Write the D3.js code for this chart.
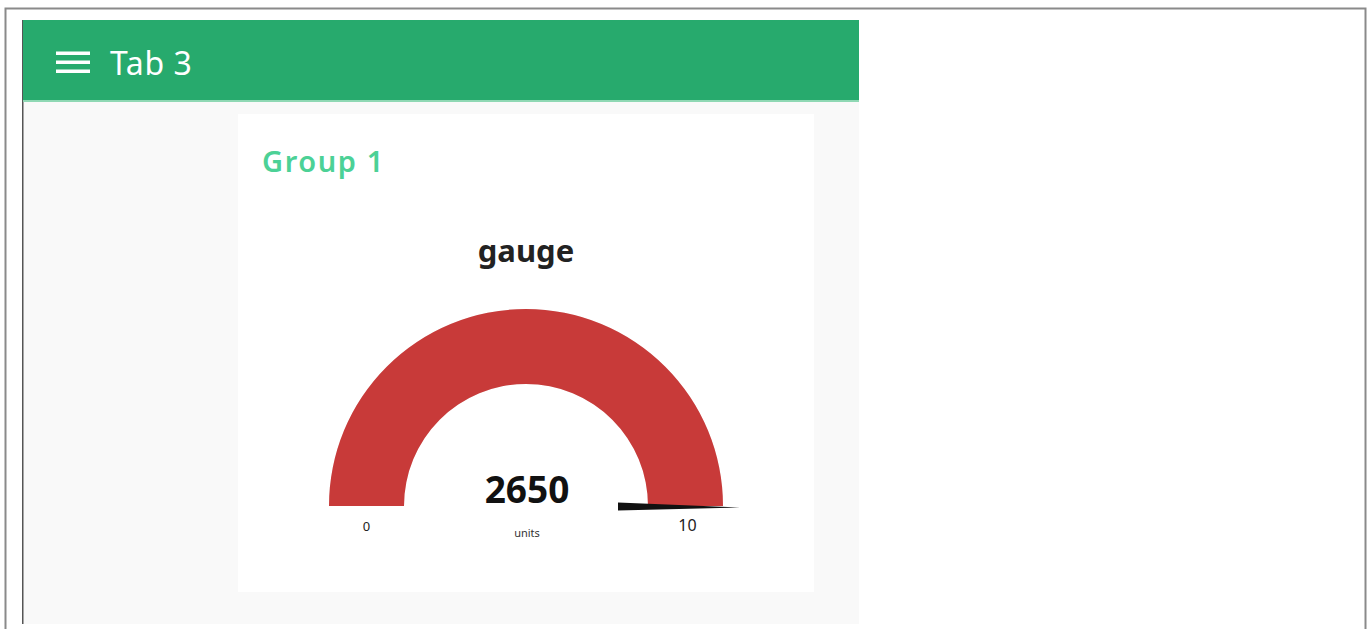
<!DOCTYPE html>
<html>
<head>
<meta charset="utf-8">
<script src="https://cdn.jsdelivr.net/npm/d3@7"></script>
<style>
  html, body { margin: 0; padding: 0; background: #fff; }
  svg { display: block; font-family: "Noto Sans", "Open Sans", sans-serif; }
</style>
</head>
<body>
<div id="chart"></div>
<script>
/* ── data ── */
const TAB_TITLE   = 'Tab 3';
const GROUP_TITLE = 'Group 1';
const GAUGE_TITLE = 'gauge';
const GAUGE_VALUE = [2650];
const GAUGE_RANGE = [0, 10];
const GAUGE_UNITS = ['units'];

const W = 1371, H = 629;
const svg = d3.select('#chart').append('svg')
  .attr('width', W).attr('height', H);

/* outer frame */
svg.append('rect').attr('x', 5.5).attr('y', 8.5).attr('width', 1360).attr('height', 640)
  .attr('fill', '#fff').attr('stroke', '#8a8a8a').attr('stroke-width', 2);

/* dashboard panel */
svg.append('rect').attr('x', 22).attr('y', 20).attr('width', 837).attr('height', 604)
  .attr('fill', '#f9f9f9');
svg.append('rect').attr('x', 22).attr('y', 20).attr('width', 1.5).attr('height', 604)
  .attr('fill', '#555');

/* header */
svg.append('rect').attr('x', 23).attr('y', 20).attr('width', 836).attr('height', 81)
  .attr('fill', '#27aa6d');
svg.append('rect').attr('x', 23).attr('y', 100).attr('width', 836).attr('height', 2)
  .attr('fill', '#8fd8b4');

/* hamburger */
svg.append('g').selectAll('rect')
  .data([53, 62, 71])
  .join('rect')
    .attr('x', 56).attr('y', d => d - 1.5)
    .attr('width', 34).attr('height', 3.5)
    .attr('fill', '#fff');

svg.append('text')
  .attr('x', 110).attr('y', 75)
  .attr('fill', '#fff').attr('font-size', 32).attr('letter-spacing', 0.6)
  .text(TAB_TITLE);

/* card */
svg.append('rect').attr('x', 238).attr('y', 114).attr('width', 576).attr('height', 478)
  .attr('fill', '#fff');

svg.append('text')
  .attr('x', 262).attr('y', 172)
  .attr('fill', '#4cd196').attr('font-size', 29).attr('font-weight', 600)
  .attr('letter-spacing', 1.6)
  .text(GROUP_TITLE);

svg.append('text')
  .attr('x', 526).attr('y', 262)
  .attr('text-anchor', 'middle')
  .attr('fill', '#222').attr('font-size', 31).attr('font-weight', 700)
  .text(GAUGE_TITLE);

/* gauge */
const cx = 526, cy = 506, rOut = 197, rIn = 122;
const ang = d3.scaleLinear().domain(GAUGE_RANGE).range([-Math.PI / 2, Math.PI / 2]).clamp(true);
const g = svg.append('g').attr('transform', `translate(${cx},${cy})`);

const arc = d3.arc().innerRadius(rIn).outerRadius(rOut);
g.append('path')
  .attr('d', arc({ startAngle: ang(GAUGE_RANGE[0]), endAngle: ang(GAUGE_RANGE[1]) }))
  .attr('fill', '#edebeb');
g.append('path')
  .attr('d', arc({ startAngle: ang(GAUGE_RANGE[0]), endAngle: ang(GAUGE_VALUE[0]) }))
  .attr('fill', '#c83a39');

/* needle: wide at inner radius, tapers past outer radius */
const a = ang(GAUGE_VALUE[0]);
const ux = Math.sin(a), uy = -Math.cos(a);      // direction
const px = -uy, py = ux;                         // perpendicular
const n0 = rIn - 30, n1 = rOut + 17, hw = 4;
const needle = [
  [ux * n0 - px * hw, uy * n0 - py * hw + 0.5],
  [ux * n1, uy * n1 + 1.5],
  [ux * n0 + px * hw, uy * n0 + py * hw + 0.5]
];
g.append('path')
  .attr('d', d3.line()(needle) + 'Z')
  .attr('fill', '#111');

g.append('text')
  .attr('x', 1).attr('y', -3)
  .attr('text-anchor', 'middle')
  .attr('fill', '#111').attr('font-size', 37).attr('font-weight', 700)
  .text(GAUGE_VALUE[0]);

g.append('text')
  .attr('x', 1).attr('y', 31)
  .attr('text-anchor', 'middle')
  .attr('fill', '#333').attr('font-size', 11)
  .text(GAUGE_UNITS[0]);

/* min / max labels */
g.selectAll('text.lim')
  .data(GAUGE_RANGE)
  .join('text')
    .attr('class', 'lim')
    .attr('x', (d, i) => i === 0 ? -(rOut + rIn) / 2 : (rOut + rIn) / 2 + 2)
    .attr('y', 25)
    .attr('text-anchor', 'middle')
    .attr('fill', '#222')
    .attr('font-size', (d, i) => i === 0 ? 13 : 16)
    .text(d => d);
</script>
</body>
</html>
